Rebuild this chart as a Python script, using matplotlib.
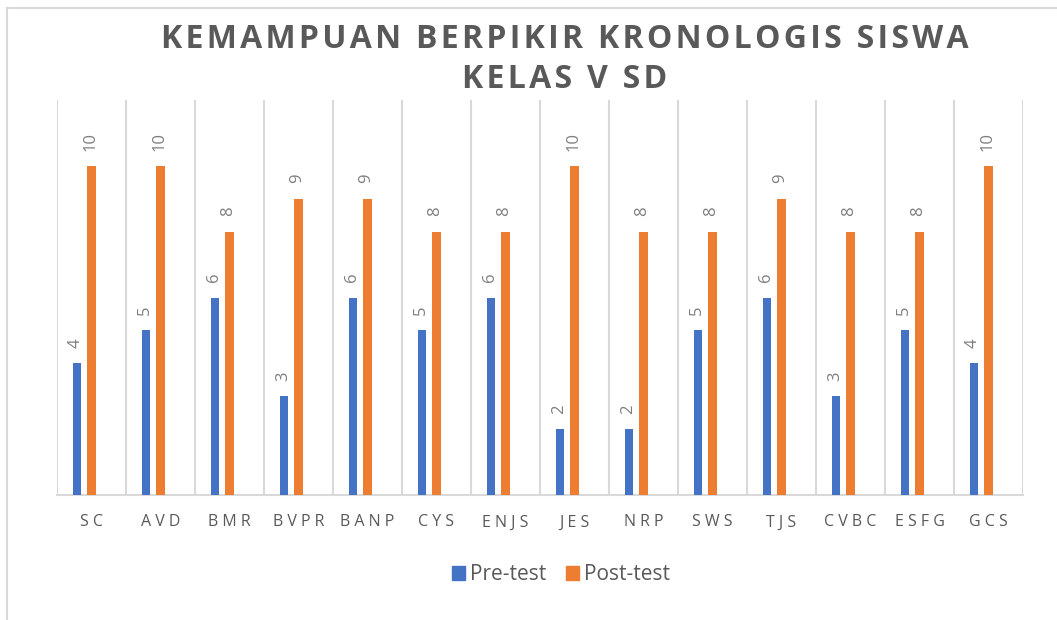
import matplotlib
matplotlib.use('Agg')
import matplotlib.pyplot as plt
from matplotlib.lines import Line2D
from matplotlib.patches import Patch

cats = ['SC', 'AVD', 'BMR', 'BVPR', 'BANP', 'CYS', 'ENJS', 'JES', 'NRP', 'SWS', 'TJS', 'CVBC', 'ESFG', 'GCS']
pre = [4, 5, 6, 3, 6, 5, 6, 2, 2, 5, 6, 3, 5, 4]
post = [10, 10, 8, 9, 9, 8, 8, 10, 8, 8, 9, 8, 8, 10]

blue = '#4472C4'
orange = '#ED7D31'
grid = '#D9D9D9'
fam = ['Open Sans', 'DejaVu Sans']


def spaced(s, sep='\u200a'):
    return sep.join(s)


fig = plt.figure(figsize=(10.57, 6.2), dpi=100)
ax = fig.add_axes([57/1057, 125/620, 966/1057, 395/620])

# outer chart border (cropped on right/bottom in reference)
fig.add_artist(Line2D([7/1057, 7/1057], [-0.1, 1-8/620], transform=fig.transFigure, color=grid, lw=1.5))
fig.add_artist(Line2D([7/1057, 1.1], [1-8/620, 1-8/620], transform=fig.transFigure, color=grid, lw=1.5))

x = list(range(len(cats)))
off = 0.205
w = 0.118
xb = [i - off for i in x]
b1 = ax.bar(xb, pre, width=w, color=blue, zorder=3)
b2 = ax.bar(x, post, width=w, color=orange, zorder=3)

for rects, vals in ((b1, pre), (b2, post)):
    for r, v in zip(rects, vals):
        ax.annotate(str(v), (r.get_x() + r.get_width()/2, v), xytext=(-1, 11),
                    textcoords='offset points', rotation=90, ha='center', va='bottom',
                    fontsize=12, color='#7F7F7F', family=fam)

ax.set_xlim(-0.5, len(cats) - 0.5)
ax.set_ylim(0, 12)
ax.set_yticks([])
ax.set_xticks(x)
ax.set_xticklabels([spaced(c, ' ') for c in cats], fontsize=11.5, color='#595959', family=fam)
ax.tick_params(axis='x', length=0, pad=14)
ax.set_xticks([i - 0.5 for i in range(len(cats) + 1)], minor=True)
ax.tick_params(axis='x', which='minor', length=0)
ax.grid(axis='x', which='minor', color=grid, lw=1.5, zorder=0)
ax.grid(axis='x', which='major', visible=False)
for s in ['top', 'right', 'left']:
    ax.spines[s].set_visible(False)
ax.spines['bottom'].set_color(grid)
ax.spines['bottom'].set_linewidth(1.5)

fig.text(565/1057, 1-39/620, spaced('KEMAMPUAN BERPIKIR KRONOLOGIS SISWA'), ha='center', va='center',
         fontsize=23, fontweight='bold', color='#595959', family=fam)
fig.text(565/1057, 1-80/620, spaced('KELAS V SD'), ha='center', va='center',
         fontsize=23, fontweight='bold', color='#595959', family=fam)

handles = [Patch(color=blue, label='Pre-test'), Patch(color=orange, label='Post-test')]
fig.legend(handles=handles, loc='center', bbox_to_anchor=(561/1057, 1-575/620), ncol=2, frameon=False,
           prop={'family': fam, 'size': 15}, handlelength=0.65, handleheight=0.65,
           handletextpad=0.25, columnspacing=0.9, labelcolor='#595959')

fig.savefig('out.png', dpi=100)
